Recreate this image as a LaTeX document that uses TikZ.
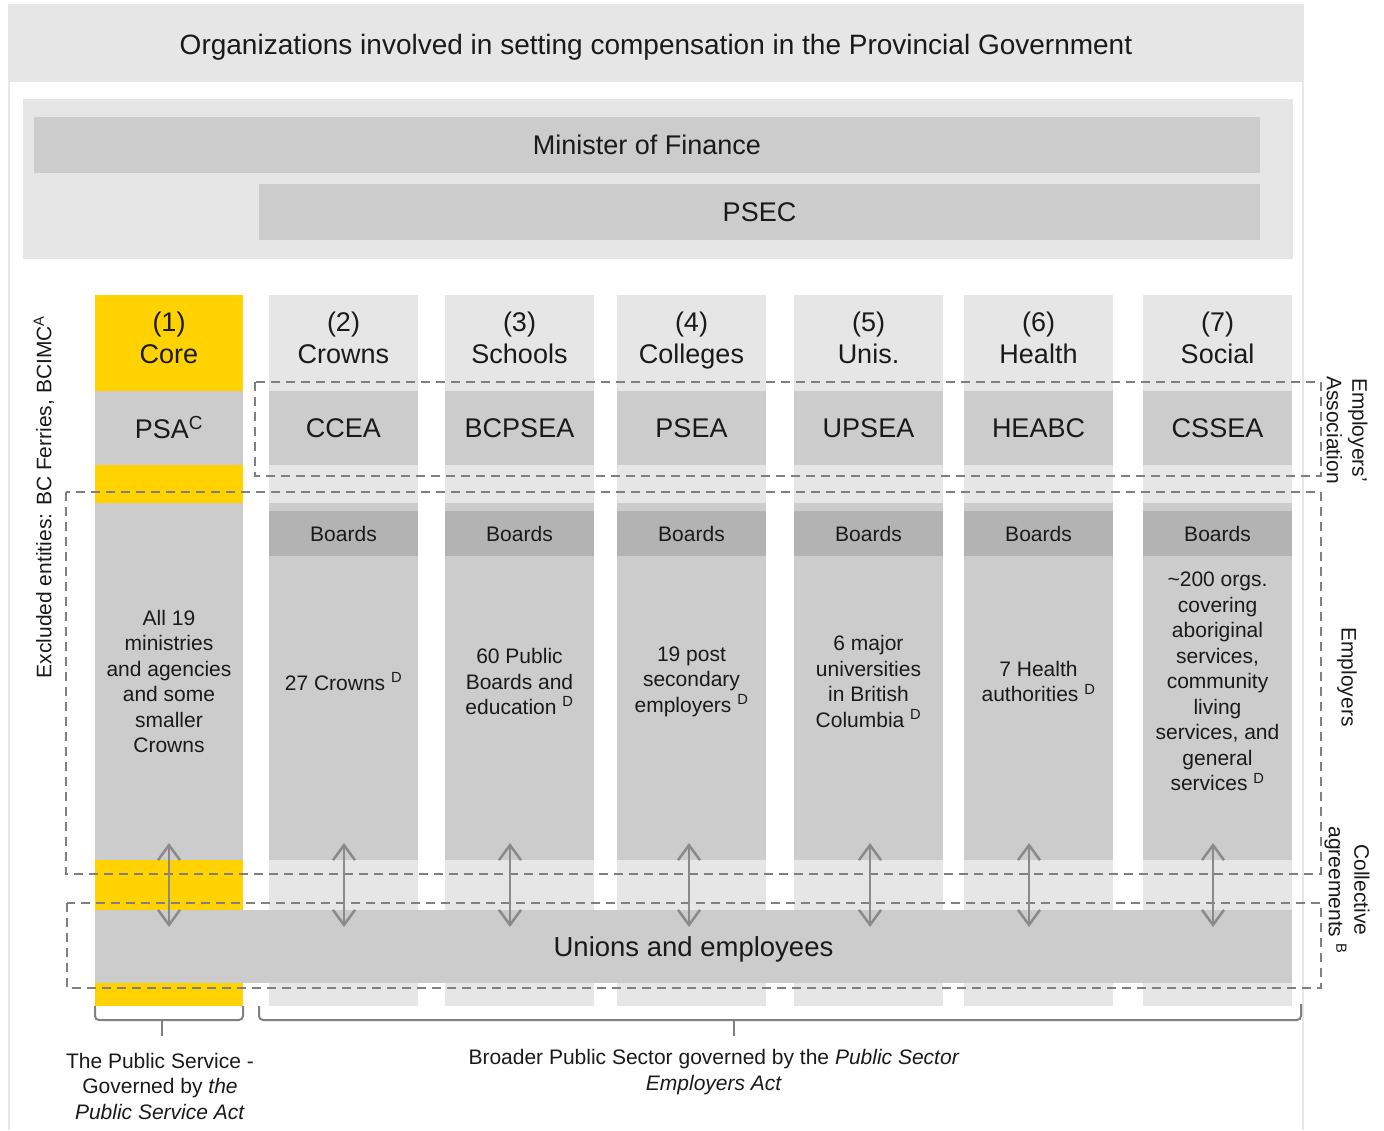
\documentclass[tikz,border=0pt]{standalone}
\usepackage{fontspec}
\setmainfont{Liberation Sans}
\usetikzlibrary{arrows.meta}
\definecolor{bandgray}{HTML}{E6E6E6}
\definecolor{boxgray}{HTML}{CCCCCC}
\definecolor{boardgray}{HTML}{B3B3B3}
\definecolor{coreyellow}{HTML}{FFD200}
\definecolor{linegray}{HTML}{808080}
\definecolor{arrowgray}{HTML}{8A8A8A}
\definecolor{inkgray}{HTML}{1A1A1A}
\newcommand{\titletxt}{\fontsize{28}{32}\selectfont}
\newcommand{\bigtxt}{\fontsize{27}{32}\selectfont}
\newcommand{\smalltxt}{\fontsize{21}{25.5}\selectfont}
\newcommand{\noteref}[1]{\textsuperscript{#1}}

\begin{document}
\begin{tikzpicture}[x=1pt,y=-1pt,text=inkgray,
  blk/.style={anchor=north west,inner sep=0pt,outer sep=0pt,align=center},
  bigbox/.style={blk,font=\bigtxt},
  smallbox/.style={blk,font=\smalltxt},
  sidetxt/.style={font=\smalltxt,align=center,inner sep=0pt},
  headtxt/.style={font=\bigtxt,align=center,inner sep=0pt},
  dashbox/.style={draw=linegray,line width=2pt,dash pattern=on 9pt off 6pt},
  agree/.style={draw=arrowgray,line width=2.5pt,>={Straight Barb[length=15pt,width=22pt]},<->},
  brace/.style={draw=linegray,line width=2pt,rounded corners=4pt}]
\useasboundingbox (0,0) rectangle (1384,1130);
% --- frame and title ---
\node[blk,fill=bandgray,minimum width=1296pt,minimum height=78pt] (title) at (8,4) {};
\node[font=\titletxt,inner sep=0pt] (titlelab) at ([yshift=-4pt]title.center)
  {Organizations involved in setting compensation in the Provincial Government};
\draw[bandgray,line width=2.5pt] (9,82) -- (9,1130);
\draw[bandgray,line width=2.5pt] (1303,82) -- (1303,1130);
% --- ministry level ---
\node[blk,fill=bandgray,minimum width=1270pt,minimum height=160pt] (toppanel) at (23,99) {};
\node[bigbox,fill=boxgray,minimum width=1226pt,minimum height=56pt] (mof) at (34,117) {Minister of Finance};
\node[bigbox,fill=boxgray,minimum width=1001pt,minimum height=56pt] (psec) at (259,184) {PSEC};
% --- (1) core public service ---
\node[blk,fill=coreyellow,minimum width=148pt,minimum height=711pt] (core) at (95,295) {};
\node[headtxt] (head1) at ([yshift=-46pt]core.north) {(1)\strut\\Core\strut};
\node[bigbox,fill=boxgray,minimum width=148pt,minimum height=74pt] (assoc1) at (95,391) {PSA\noteref{C}};
\node[smallbox,fill=boxgray,minimum width=148pt,minimum height=357pt] (body1) at (95,503)
  {All 19\\ministries\\and agencies\\and some\\smaller\\Crowns};
% --- (2)-(7) broader public sector ---
\foreach \n/\xl/\nm/\assoc/\body in {
  2/269/Crowns/CCEA/{27 Crowns \noteref{D}},
  3/445/Schools/BCPSEA/{60 Public\\Boards and\\education \noteref{D}},
  4/617/Colleges/PSEA/{19 post\\secondary\\employers \noteref{D}},
  5/794/Unis./UPSEA/{6 major\\universities\\in British\\Columbia \noteref{D}},
  6/964/Health/HEABC/{7 Health\\authorities \noteref{D}},
  7/1143/Social/CSSEA/{\textasciitilde200 orgs.\\covering\\aboriginal\\services,\\community\\living\\services, and\\general\\services \noteref{D}}}{
  \node[blk,fill=bandgray,minimum width=149pt,minimum height=711pt] (bg\n) at (\xl,295) {};
  \node[headtxt] (head\n) at ([yshift=-46pt]bg\n.north) {(\n)\strut\\\nm\strut};
  \node[bigbox,fill=boxgray,minimum width=149pt,minimum height=74pt] (assoc\n) at (\xl,391) {\assoc};
  \node[smallbox,fill=boxgray,minimum width=149pt,minimum height=357pt] (body\n) at (\xl,503) {\body};
  \node[smallbox,fill=boardgray,minimum width=149pt,minimum height=45pt] (boards\n) at (\xl,511) {Boards};
}
% --- unions ---
\node[blk,fill=boxgray,minimum width=1197pt,minimum height=73pt] (unions) at (95,910) {};
\node[font=\fontsize{27.5}{32}\selectfont,inner sep=0pt] (unionlab) at ([yshift=-3pt]unions.center) {Unions and employees};
% --- dashed groupings ---
\draw[dashbox] (255,382) rectangle (1321,476);
\draw[dashbox] (66,492) rectangle (1321,874);
\draw[dashbox] (67,903) rectangle (1321,988);
% --- side labels ---
\node[sidetxt,rotate=90] (excl) at (44,497) {Excluded entities: BC Ferries, BCIMC\noteref{A}};
\node[sidetxt,rotate=-90] (ealab) at (1347,430) {Employers'\\Association};
\node[sidetxt,rotate=-90] (emplab) at (1347,677) {Employers};
\node[sidetxt,rotate=-90] (calab) at (1347,890) {Collective\\agreements \noteref{B}};
% --- bargaining arrows ---
\foreach \ax [count=\k] in {169,344,510,689,870,1029,1213}{
  \coordinate (up\k) at (\ax,843);
  \coordinate (dn\k) at (\ax,927);
  \draw[agree] (up\k) -- (dn\k);
}
% --- braces and acts ---
\draw[brace] (95,1006) -- (95,1020) -- (243,1020) -- (243,1006);
\draw[brace] (162,1020) -- (162,1036);
\draw[brace] (259,1006) -- (259,1020) -- (1301,1020) -- (1301,1004);
\draw[brace] (734,1020) -- (734,1036);
\node[sidetxt] (psnote) at (160,1086) {The Public Service -\\Governed by \textit{the}\\\textit{Public Service Act}};
\node[sidetxt] (bpsnote) at (714,1072) {Broader Public Sector governed by the \textit{Public Sector}\\\textit{Employers Act}};
\end{tikzpicture}
\end{document}
